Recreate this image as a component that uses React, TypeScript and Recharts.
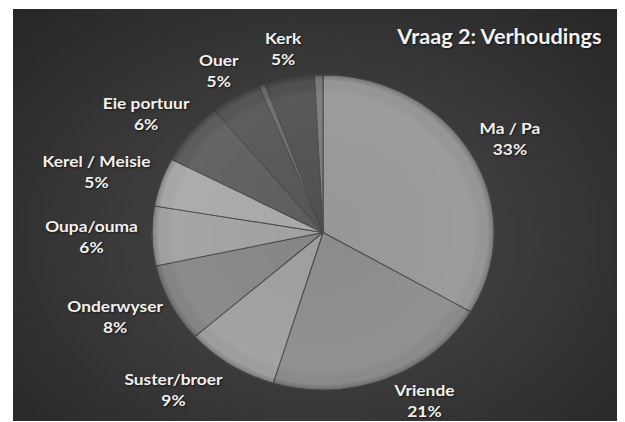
import { PieChart, Pie, Cell } from "recharts";

// slices clockwise from 12 o'clock
const categories = [
  "Ma / Pa",
  "Vriende",
  "Suster/broer",
  "Onderwyser",
  "Oupa/ouma",
  "Kerel / Meisie",
  "Eie portuur",
  "Ouer",
  "",
  "Kerk",
  "",
];
const shares = [33.4, 21.3, 8.8, 8.1, 6.1, 5.0, 6.4, 4.8, 0.6, 4.7, 0.8];
const sliceColors = [
  "#979797",
  "#8b8b8b",
  "#9e9e9e",
  "#858585",
  "#a1a1a1",
  "#a8a8a8",
  "#5d5d5d",
  "#555555",
  "#6a6a6a",
  "#505050",
  "#7a7a7a",
];
const title = "Vraag 2: Verhoudings";

const data = categories.map((name, i) => ({ name, value: shares[i] }));
const total = shares.reduce((a, b) => a + b, 0);

const STRETCH = 1.086;
const W = 564;
const H = 413;
const CX = 285.5;
const CY = 223.5;
const R = 157.5;
const FONT = "Lato, 'Open Sans', sans-serif";

let ctx: CanvasRenderingContext2D | null = null;
function textWidth(s: string) {
  if (!ctx) ctx = document.createElement("canvas").getContext("2d");
  if (!ctx) return s.length * 7.5;
  ctx.font = `bold 16px ${FONT}`;
  return ctx.measureText(s).width;
}

function renderLabel(props: any) {
  const { cx, cy, midAngle, outerRadius, index } = props;
  const name = categories[index];
  if (!name) return null;
  const pct = Math.round((shares[index] / total) * 100) + "%";
  const rad = (-midAngle * Math.PI) / 180;
  const ux = Math.cos(rad);
  const uy = Math.sin(rad);
  const gap = 13;
  const w = Math.max(textWidth(name), textWidth(pct));
  const h = 34;
  const px = cx + (outerRadius + gap) * ux;
  const py = cy + (outerRadius + gap) * uy;
  // labels near the bottom get spread sideways so they clear each other
  const spread = uy > 0.8 ? Math.sign(ux) * 21 : 0;
  const x = px + (w / 2) * ux + spread;
  // keep the two lines inside the plot area
  const y = Math.min(py + (h / 2) * uy, H - 21);
  return (
    <text
      textAnchor="middle"
      fill="#f0f0f0"
      fontSize={16}
      fontWeight="bold"
      fontFamily={FONT}
      style={{ textShadow: "1px 1px 2px rgba(0,0,0,0.6)" }}
    >
      <tspan x={x} y={y - 5}>{name}</tspan>
      <tspan x={x} y={y + 16}>{pct}</tspan>
    </text>
  );
}

export default function App() {
  return (
    <div
      style={{
        position: "relative",
        left: 5,
        top: 1,
        width: 612,
        height: H,
        overflow: "hidden",
        background:
          "radial-gradient(ellipse at 50% 55%, #4a4a4a 0%, #3b3b3b 45%, #262626 100%)",
      }}
    >
      <div style={{ transform: `scaleX(${STRETCH})`, transformOrigin: "0 0", width: W }}>
        <PieChart width={W} height={H} margin={{ top: 0, right: 0, bottom: 0, left: 0 }}>
          <defs>
            <radialGradient id="sheen" gradientUnits="userSpaceOnUse" cx={CX} cy={CY} r={R}>
              <stop offset="0%" stopColor="#ffffff" stopOpacity={0} />
              <stop offset="88%" stopColor="#ffffff" stopOpacity={0.05} />
              <stop offset="96%" stopColor="#000000" stopOpacity={0} />
              <stop offset="100%" stopColor="#000000" stopOpacity={0.22} />
            </radialGradient>
          </defs>
          <Pie
            data={data}
            dataKey="value"
            nameKey="name"
            cx={CX}
            cy={CY}
            outerRadius={R}
            startAngle={90}
            endAngle={-270}
            stroke="#4a4a4a"
            strokeWidth={1}
            label={renderLabel}
            labelLine={false}
            isAnimationActive={false}
          >
            {data.map((d, i) => (
              <Cell key={d.name + i} fill={sliceColors[i]} />
            ))}
          </Pie>
          <Pie
            data={data}
            dataKey="value"
            cx={CX}
            cy={CY}
            outerRadius={R}
            startAngle={90}
            endAngle={-270}
            fill="url(#sheen)"
            stroke="none"
            isAnimationActive={false}
          />
          <text
            x={542}
            y={35}
            textAnchor="end"
            fill="#f2f2f2"
            fontSize={20}
            fontWeight="bold"
            fontFamily={FONT}
            style={{ textShadow: "1px 1px 2px rgba(0,0,0,0.6)" }}
          >
            {title}
          </text>
        </PieChart>
      </div>
    </div>
  );
}
